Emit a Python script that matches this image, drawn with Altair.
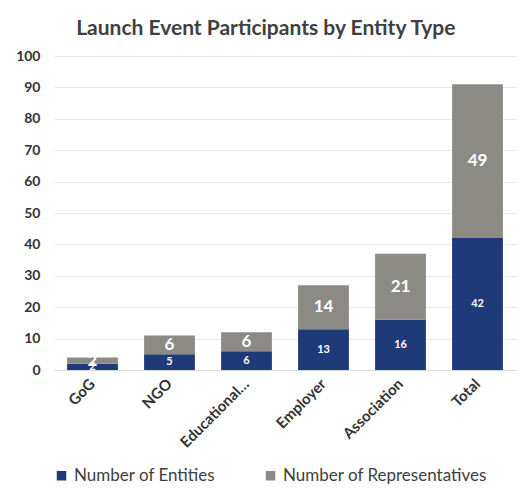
import altair as alt
import pandas as pd

categories = ["GoG", "NGO", "Educational…", "Employer", "Association", "Total"]
entities = [2, 5, 6, 13, 16, 42]
representatives = [2, 6, 6, 14, 21, 49]
series = ["Number of Entities", "Number of Representatives"]
colors = ["#1F3A78", "#8C8A85"]
y_ticks = [0, 10, 20, 30, 40, 50, 60, 70, 80, 90, 100]

rows = []
for c, e, r in zip(categories, entities, representatives):
    rows.append({"cat": c, "series": series[0], "value": e, "ord": 0})
    rows.append({"cat": c, "series": series[1], "value": r, "ord": 1})
df = pd.DataFrame(rows)

FONT = "Lato"

base = alt.Chart(df).transform_stack(
    stack="value", groupby=["cat"], as_=["y0", "y1"],
    sort=[alt.SortField("ord", order="ascending")]
).transform_calculate(mid="(datum.y0 + datum.y1) / 2")

x_axis = alt.Axis(labelAngle=-45, labelAlign="right", labelBaseline="middle",
                  labelFont=FONT, labelFontWeight="bold", labelFontSize=15,
                  labelColor="#333333", labelPadding=11, ticks=False,
                  domainColor="#d9d9d9", grid=False)
x = alt.X("cat:N", sort=categories, title=None,
          scale=alt.Scale(paddingInner=0.34, paddingOuter=0.17), axis=x_axis)

y_scale = alt.Scale(domain=[0, 100])
y_axis = alt.Axis(values=y_ticks, labelFont=FONT, tickCount=11,
                  labelFontWeight="bold", labelFontSize=14, labelColor="#333333",
                  labelPadding=14, ticks=False, domain=False, gridColor="#e8e8e8")

bars = base.mark_bar().encode(
    x=x,
    y=alt.Y("y0:Q", title=None, scale=y_scale, axis=y_axis),
    y2="y1:Q",
    color=alt.Color("series:N", scale=alt.Scale(domain=series, range=colors),
                    legend=alt.Legend(title=None, orient="none", direction="horizontal",
                                      legendX=-1, legendY=411, symbolType="square",
                                      symbolSize=90, labelFont=FONT, labelFontSize=17,
                                      labelColor="#404040", columnPadding=46,
                                      labelLimit=400, symbolStrokeWidth=0)),
)

lab_ent = base.transform_filter(alt.datum.ord == 0).mark_text(
    color="white", font=FONT, fontWeight="bold", fontSize=11, baseline="middle"
).encode(x=x, y=alt.Y("mid:Q", title=None, scale=y_scale, axis=y_axis), text="value:Q")

lab_rep = base.transform_filter(alt.datum.ord == 1).mark_text(
    color="white", font=FONT, fontWeight="bold", fontSize=17, baseline="middle"
).encode(x=x, y=alt.Y("mid:Q", title=None, scale=y_scale, axis=y_axis), text="value:Q")

chart = alt.layer(bars, lab_ent, lab_rep).properties(
    width=462, height=314,
    autosize=alt.AutoSizeParams(type="none"),
    padding={"left": 54, "top": 56, "right": 9, "bottom": 125},
    title=alt.TitleParams("Launch Event Participants by Entity Type", font=FONT,
                          fontSize=21, fontWeight="bold", color="#404040",
                          anchor="middle", frame="bounds", offset=10),
).configure_view(stroke=None)

chart.save("out.html", embed_options={"renderer": "svg", "actions": False})
